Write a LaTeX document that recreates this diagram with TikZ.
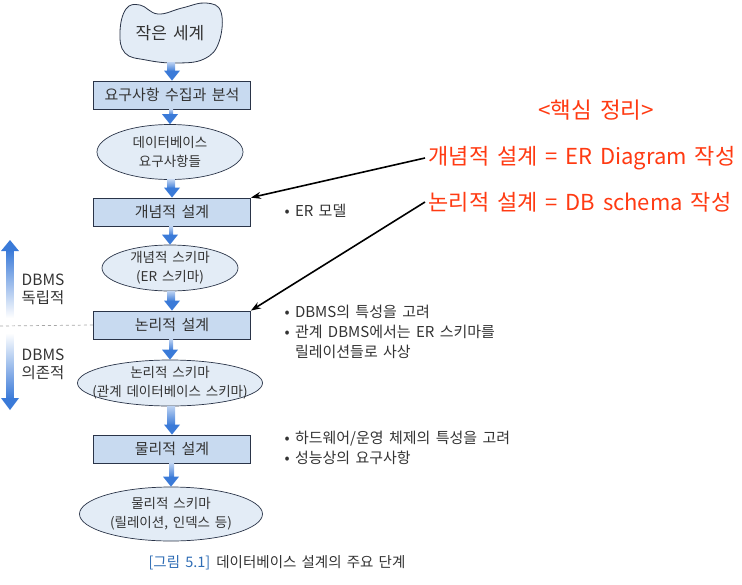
\documentclass[tikz,border=0pt]{standalone}
\usepackage{fontspec}
\setmainfont{Noto Sans CJK KR}[WordSpace=1.6]
\usetikzlibrary{shapes.geometric,calc,arrows.meta}
\definecolor{boxfill}{HTML}{C8DAF0}
\definecolor{ellfill}{HTML}{E3ECF6}
\definecolor{edge}{HTML}{2A3448}
\definecolor{flowblue}{HTML}{3A7AD8}
\definecolor{notered}{HTML}{FF3A12}
\definecolor{capblue}{HTML}{2F6DB5}
\definecolor{txt}{HTML}{333333}
\tikzset{
  stage/.style={draw=edge, fill=boxfill, line width=0.8pt, minimum width=157pt, minimum height=28pt, font=\fontsize{15}{17}\selectfont, text=txt},
  resulttext/.style={align=center, font=\fontsize{13.5}{19}\selectfont, text=txt},
  result/.style={ellipse, draw=edge, fill=ellfill, line width=0.7pt, inner sep=0pt, label={[resulttext]center:{#1}}},
  remark/.style={anchor=west, font=\fontsize{15}{20}\selectfont, text=txt, align=left},
  side/.style={align=center, font=\fontsize{15.5}{18}\selectfont, text=txt},
  summary/.style={anchor=west, font=\fontsize{22}{24}\selectfont, text=notered},
  pointer/.style={-{Stealth[length=10pt,width=7pt]}, line width=1.6pt, black},
}
\newcommand{\flowarrow}[2]{%
  \shade[top color=flowblue!35, bottom color=flowblue] ($(#1.south)+(-3,0)$) rectangle ($(#2.north)+(3,-9)$);
  \fill[flowblue] ($(#2.north)+(-8,-10)$) -- ($(#2.north)+(8,-10)$) -- (#2.north) -- cycle;}
\begin{document}
\begin{tikzpicture}[x=1pt,y=-1pt]
\useasboundingbox (0,0) rectangle (742,584);
\draw[edge, fill=ellfill, line width=0.8pt] plot[smooth cycle, tension=0.7] coordinates {(120,32) (126,9) (140,5) (158,14) (182,8) (206,3) (221,12) (219,42) (204,59) (176,63) (146,60) (125,53)};
\node [minimum width=100pt, minimum height=58pt, font=\fontsize{17}{19}\selectfont, text=txt] (world) at (170,33) {작은 세계};
\node [stage] (collect) at (172,95) {요구사항 수집과 분석};
\node [result={데이터베이스\\요구사항들}, minimum width=146pt, minimum height=55pt] (needs) at (170,152) {};
\node [stage] (concept) at (172,212) {개념적 설계};
\node [result={개념적 스키마\\(ER 스키마)}, minimum width=136pt, minimum height=46pt] (erschema) at (170,268) {};
\node [stage] (logical) at (172,325) {논리적 설계};
\node [result={논리적 스키마\\(관계 데이터베이스 스키마)}, minimum width=185pt, minimum height=46pt] (relschema) at (170,383) {};
\node [stage] (physical) at (172,449) {물리적 설계};
\node [result={물리적 스키마\\(릴레이션, 인덱스 등)}, minimum width=183pt, minimum height=54pt] (physschema) at (171,514) {};
\flowarrow{world}{collect}
\flowarrow{collect}{needs}
\flowarrow{needs}{concept}
\flowarrow{concept}{erschema}
\flowarrow{erschema}{logical}
\flowarrow{logical}{relschema}
\flowarrow{relschema}{physical}
\flowarrow{physical}{physschema}
\shade[top color=flowblue, bottom color=white] (6.5,318) rectangle (13.5,250);
\fill[flowblue] (1,251) -- (19,251) -- (10,240) -- cycle;
\shade[top color=white, bottom color=flowblue] (6.5,333) rectangle (13.5,399);
\fill[flowblue] (1,398) -- (19,398) -- (10,410) -- cycle;
\node [side] (indep) at (43,289) {DBMS\\독립적};
\node [side] (dep) at (43,364) {DBMS\\의존적};
\coordinate (cut) at (0,326);
\draw [dashed, gray!70, line width=0.7pt] (cut) -- (logical.west);
\node [remark] (ermodel) at (281,211) {• ER 모델};
\node [remark, anchor=north west] (lognote) at (281,302) {• DBMS의 특성을 고려\\• 관계 DBMS에서는 ER 스키마를\\\phantom{• }릴레이션들로 사상};
\node [remark, anchor=north west] (physnote) at (281,428) {• 하드웨어/운영 체제의 특성을 고려\\• 성능상의 요구사항};
\node [font=\fontsize{22.5}{25}\selectfont, text=notered] (keytitle) at (596,110) {<핵심 정리>};
\node [summary] (erline) at (425,158) {개념적 설계 = ER Diagram 작성};
\node [summary] (dbline) at (425,202) {논리적 설계 = DB schema 작성};
\draw [pointer] (erline.west) -- (concept.north east);
\draw [pointer] (dbline.west) -- (logical.north east);
\node [font=\fontsize{14.5}{16}\selectfont, text=txt] (caption) at (277,563) {{\color{capblue}[그림 5.1]}\hspace{6pt}데이터베이스 설계의 주요 단계};
\end{tikzpicture}
\end{document}
